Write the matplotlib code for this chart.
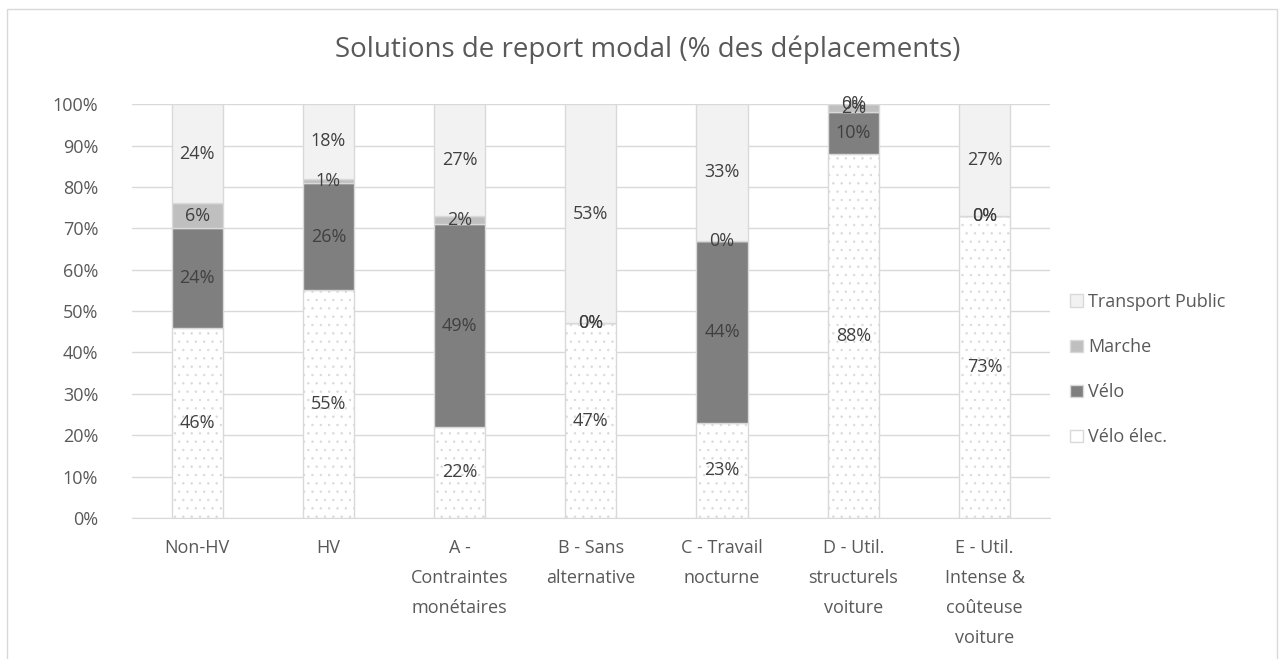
import matplotlib.pyplot as plt
import matplotlib as mpl
import numpy as np

categories = ['Non-HV', 'HV', 'A -\nContraintes\nmonétaires', 'B - Sans\nalternative',
              'C - Travail\nnocturne', 'D - Util.\nstructurels\nvoiture',
              'E - Util.\nIntense &\ncoûteuse\nvoiture']
velo_elec = [46, 55, 22, 47, 23, 88, 73]
velo = [24, 26, 49, 0, 44, 10, 0]
marche = [6, 1, 2, 0, 0, 2, 0]
transport = [24, 18, 27, 53, 33, 0, 27]

series = [('Vélo élec.', velo_elec, 'white'),
          ('Vélo', velo, '#7f7f7f'),
          ('Marche', marche, '#bfbfbf'),
          ('Transport Public', transport, '#f2f2f2')]

plt.rcParams['font.family'] = ['Open Sans', 'DejaVu Sans']
mpl.rcParams['hatch.color'] = '#707070'
mpl.rcParams['hatch.linewidth'] = 0.5

fig = plt.figure(figsize=(12.82, 6.59), dpi=100)
ax = fig.add_axes([0.1026, 0.214, 0.7165, 0.628])

x = np.arange(len(categories))
bottom = np.zeros(len(categories))
handles = []
for name, vals, col in series:
    vals = np.array(vals, dtype=float)
    b = ax.bar(x, vals / 100, 0.39, bottom=bottom / 100, color=col,
               edgecolor='#d9d9d9', linewidth=1.0, zorder=3,
               hatch='..' if name == 'Vélo élec.' else None, label=name)
    handles.append(b)
    for xi, v, bt in zip(x, vals, bottom):
        ax.text(xi, (bt + v / 2) / 100, f'{v:.0f}%', ha='center', va='center',
                fontsize=13, color='#404040', zorder=4)
    bottom += vals

ax.set_ylim(0, 1)
ax.set_xlim(-0.5, len(categories) - 0.5)
ticks = np.arange(0, 1.01, 0.1)
ax.set_yticks(ticks)
ax.set_yticklabels([f'{int(round(t * 100))}%' for t in ticks])
ax.yaxis.grid(True, color='#d9d9d9', linewidth=1, zorder=0)
ax.set_xticks(x)
ax.set_xticklabels(categories, linespacing=1.85)
ax.tick_params(length=0, labelsize=13, colors='#595959')
ax.tick_params(axis='y', pad=24)
ax.tick_params(axis='x', pad=15)
for s in ['top', 'right', 'left']:
    ax.spines[s].set_visible(False)
ax.spines['bottom'].set_color('#d9d9d9')

fig.text(0.505, 1 - 50 / 659, 'Solutions de report modal (% des déplacements)',
         fontsize=20, color='#595959', ha='center', va='center')

leg = fig.legend(handles[::-1], [s[0] for s in series][::-1], loc='center left',
                 bbox_to_anchor=(0.822, 0.439), frameon=False, fontsize=13,
                 handlelength=0.7, handleheight=0.7, handletextpad=0.3,
                 labelspacing=1.5, labelcolor='#595959')
for h in leg.legend_handles:
    h.set_hatch(None)

fig.patches.append(mpl.patches.Rectangle((7 / 1282, -0.01), 1270 / 1282, 1 - 9 / 659 + 0.01,
                                         transform=fig.transFigure, fill=False,
                                         edgecolor='#d9d9d9', linewidth=1))

fig.savefig('out.png', dpi=100)
